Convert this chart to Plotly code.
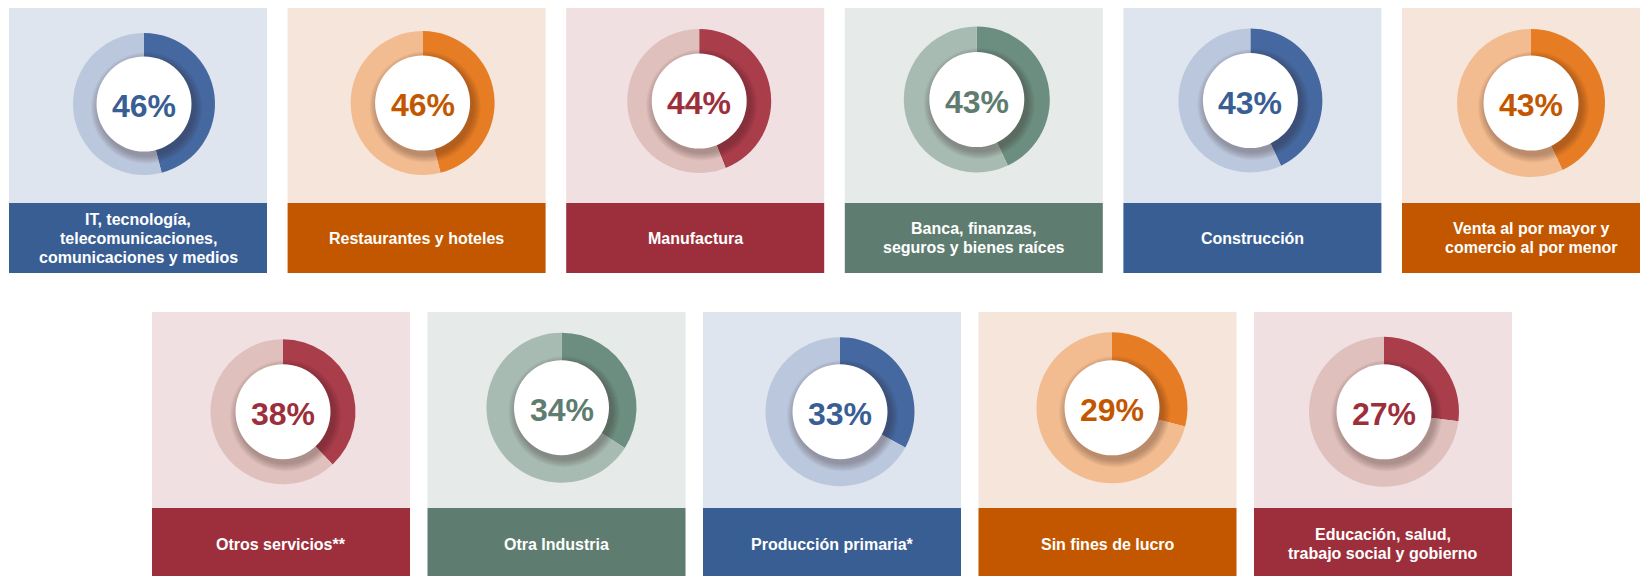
import plotly.graph_objects as go

# datos: porcentaje por sector
sectores = [
    "IT, tecnología,<br>telecomunicaciones,<br>comunicaciones y medios",
    "Restaurantes y hoteles",
    "Manufactura",
    "Banca, finanzas,<br>seguros y bienes raíces",
    "Construcción",
    "Venta al por mayor y<br>comercio al por menor",
    "Otros servicios**",
    "Otra Industria",
    "Producción primaria*",
    "Sin fines de lucro",
    "Educación, salud,<br>trabajo social y gobierno",
]
valores = [46, 46, 44, 43, 43, 43, 38, 34, 33, 29, 27]
paletas = ["azul", "naranja", "rojo", "verde", "azul", "naranja",
           "rojo", "verde", "azul", "naranja", "rojo"]

# colores: barra/texto, fondo, segmento, resto
colores = {
    "azul": ("#395E94", "#DFE5EF", "#44689F", "#BBC7DD"),
    "naranja": ("#C25700", "#F5E5DA", "#E67C24", "#F2BC90"),
    "rojo": ("#9C2F3B", "#F0E0E2", "#A93D4A", "#DFC0BC"),
    "verde": ("#5E7C6F", "#E6EAE8", "#6C8E80", "#A7BBB2"),
}

W, H = 1648, 576
OFF = 8  # margen del body de la página
FUENTE = "Liberation Sans, Arial, sans-serif"

# geometría de las filas (coordenadas de página)
filas = [
    dict(n=6, x0=9, paso=278.6, top=7, bg_bot=203, bar_bot=273, ty=238),
    dict(n=5, x0=152, paso=275.5, top=312, bg_bot=508, bar_bot=576, ty=544),
]
ANCHO = 258
R_IN = 47.5
# posición de cada dona dentro de su panel (no es igual en todos)
desp_x = [135, 135, 133, 132, 127, 129, 131, 134, 137, 133.5, 130]
centro_y = [104, 103, 101, 99.5, 100.5, 103, 411.7, 407.7, 411.7, 407.8, 411.8]
radio = [71, 72, 72, 73, 72, 74, 72.5, 75, 74.5, 75.5, 75]

fig = go.Figure()
shapes = []
annotations = []

i = 0
for fila in filas:
    for j in range(fila["n"]):
        barra, fondo, oscuro, claro = colores[paletas[i]]
        left = fila["x0"] + j * fila["paso"]
        right = left + ANCHO
        cx = left + desp_x[i]
        cy = centro_y[i]
        r = radio[i]

        # fondo del panel y barra de etiqueta
        shapes.append(dict(type="rect", xref="x", yref="y", x0=left, x1=right,
                           y0=fila["top"], y1=fila["bg_bot"], fillcolor=fondo,
                           line=dict(width=0), layer="below"))
        shapes.append(dict(type="rect", xref="x", yref="y", x0=left, x1=right,
                           y0=fila["bg_bot"], y1=fila["bar_bot"], fillcolor=barra,
                           line=dict(width=0), layer="below"))

        # dona
        fig.add_trace(go.Pie(
            values=[valores[i], 100 - valores[i]],
            marker=dict(colors=[oscuro, claro], line=dict(width=0)),
            sort=False, direction="clockwise", rotation=0,
            hole=0.6, textinfo="none", hoverinfo="skip", showlegend=False,
            domain=dict(x=[(cx - OFF - r) / W, (cx - OFF + r) / W],
                        y=[1 - (cy - OFF + r) / H, 1 - (cy - OFF - r) / H]),
        ))

        # sombra suave del círculo blanco
        for k in range(8):
            rr = R_IN + 8 - k
            shapes.append(dict(type="circle", xref="x", yref="y",
                               x0=cx + 2.5 - rr, x1=cx + 2.5 + rr,
                               y0=cy + 4 - rr, y1=cy + 4 + rr,
                               fillcolor="rgba(40,20,20,0.04)",
                               line=dict(width=0), layer="above"))
        shapes.append(dict(type="circle", xref="x", yref="y",
                           x0=cx - R_IN, x1=cx + R_IN, y0=cy - R_IN, y1=cy + R_IN,
                           fillcolor="white", line=dict(width=0), layer="above"))

        annotations.append(dict(x=cx, y=cy + 2, xref="x", yref="y", showarrow=False,
                                text="<b>%d%%</b>" % valores[i],
                                font=dict(family=FUENTE, size=32, color=barra)))

        # etiqueta, una línea por anotación
        lineas = sectores[i].split("<br>")
        for k, linea in enumerate(lineas):
            annotations.append(dict(
                x=(left + right) / 2, y=fila["ty"] + (k - (len(lineas) - 1) / 2) * 19,
                xref="x", yref="y", showarrow=False, text="<b>%s</b>" % linea,
                font=dict(family=FUENTE, size=16, color="white")))
        i += 1

fig.update_layout(
    width=W, height=H,
    margin=dict(l=0, r=0, t=0, b=0),
    paper_bgcolor="white", plot_bgcolor="white",
    xaxis=dict(range=[OFF, W + OFF], visible=False, fixedrange=True),
    yaxis=dict(range=[H + OFF, OFF], visible=False, fixedrange=True),
    shapes=shapes, annotations=annotations,
)

fig.write_html("out.html")
